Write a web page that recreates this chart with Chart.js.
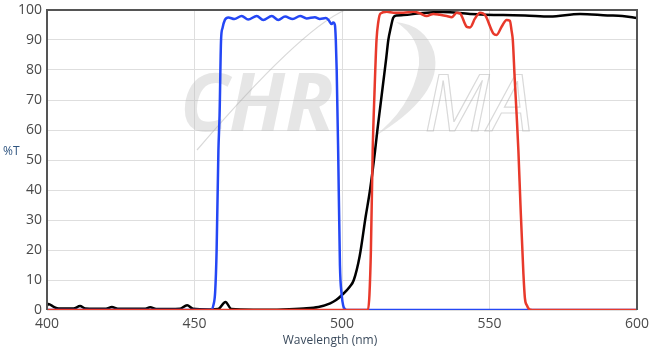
<!DOCTYPE html>
<html><head><meta charset="utf-8">
<script src="https://cdn.jsdelivr.net/npm/chart.js@4/dist/chart.umd.min.js"></script>
<style>html,body{margin:0;padding:0;background:#fff}#wrap{width:652px;height:354px}</style>
</head><body><div id="wrap"><canvas id="c" width="652" height="354"></canvas></div>
<script>
const xTicks = [400, 450, 500, 550, 600];
const yTicks = [0, 10, 20, 30, 40, 50, 60, 70, 80, 90, 100];

const redWl = [400, 508.8, 509.3, 509.8, 510.4, 511, 511.7, 512.3, 513, 515.2, 517.4, 520.8, 524.2, 526.4, 528.7, 531, 533.2, 535.5, 537.2, 538.9, 540, 542.3, 543.4, 545.1, 546.8, 548.5, 551.3, 552.4, 554.1, 555.8, 556.9, 557.5, 557.9, 558.5, 559.2, 559.8, 560.5, 561.5, 562, 562.7, 563.5, 564.5, 600];
const redT  = [0, 0, 5, 20, 53, 72, 90, 96, 98.8, 99.4, 99.1, 99.1, 99.4, 98.9, 98, 98.7, 98.4, 98, 97.6, 99.1, 98.9, 94.4, 94.2, 97.2, 99.1, 98.3, 92.2, 91.7, 94.4, 96.7, 96.4, 93, 90, 78, 65, 53, 35, 12, 4, 1.5, 0.2, 0, 0];

const blueWl = [400, 455.5, 456.5, 457, 457.5, 458.1, 458.5, 459, 459.5, 460.3, 461.5, 463.5, 466, 468.2, 471.1, 473.3, 476.2, 478.4, 480.7, 483.3, 485.8, 488, 490.8, 492.5, 494.5, 495.4, 496.5, 497, 497.6, 497.9, 498.2, 498.7, 499.3, 499.9, 500.4, 501, 502, 600];
const blueT  = [0, 0, 2, 6, 20, 53, 65, 90, 94, 96.7, 97.5, 97, 98, 96.8, 98, 96.7, 98, 96.7, 97.8, 97, 98, 97.2, 97.6, 97, 97.3, 96.7, 95.3, 95.8, 95, 90, 80, 53, 15, 5, 1.5, 0.3, 0, 0];

const blackWl = [400, 400.5, 402, 404, 409, 411.2, 413, 420, 422, 424, 433, 435, 437, 445, 447.5, 449.5, 455, 458, 460.5, 462.5, 470, 480, 487, 492, 496, 498, 500, 502.7, 504, 506, 508, 509.5, 511.2, 512, 513, 514, 515, 515.7, 516.5, 517.4, 518.5, 520.8, 526.4, 534.3, 543.4, 554.7, 562, 570.5, 580.7, 590, 595, 600];
const blackT  = [1.5, 2, 1.2, 0.5, 0.5, 1.3, 0.5, 0.4, 1, 0.4, 0.4, 0.9, 0.3, 0.4, 1.6, 0.4, 0.2, 0.3, 2.7, 0.3, 0.1, 0.2, 0.5, 1, 2.2, 3.3, 5, 7.8, 10, 18, 31, 40, 53, 60, 68, 76, 84, 90, 94, 97.5, 98.2, 98.3, 98.9, 99.3, 98.7, 98.3, 98.2, 97.8, 98.7, 98.2, 98, 97.3];

const toPts = (xs, ys) => xs.map((x, i) => ({x: x, y: ys[i]}));

const FONT = '"Open Sans", "DejaVu Sans", sans-serif';

const deco = {
  id: 'deco',
  beforeDatasetsDraw(chart) {
    const ctx = chart.ctx;
    ctx.save();
    // watermark
    ctx.fillStyle = 'rgba(190,190,190,0.38)';
    ctx.font = 'italic bold 80px "Open Sans", sans-serif';
    ctx.textBaseline = 'alphabetic';
    ctx.fillText('CHR', 180, 131);
    ctx.strokeStyle = 'rgba(170,170,170,0.45)';
    ctx.lineWidth = 1.2;
    ctx.font = 'italic 78px "Open Sans", sans-serif';
    ctx.strokeText('MA', 424, 131);
    // swoosh
    ctx.beginPath();
    ctx.moveTo(197, 150);
    ctx.quadraticCurveTo(300, 30, 345, 10);
    ctx.stroke();
    ctx.fillStyle = 'rgba(190,190,190,0.38)';
    ctx.beginPath();
    ctx.moveTo(372, 138);
    ctx.quadraticCurveTo(445, 95, 434, 52);
    ctx.quadraticCurveTo(425, 25, 396, 22);
    ctx.quadraticCurveTo(421, 38, 419, 65);
    ctx.quadraticCurveTo(412, 108, 372, 138);
    ctx.fill();
    ctx.restore();
  },
  afterDraw(chart) {
    const ctx = chart.ctx, a = chart.chartArea;
    ctx.save();
    ctx.strokeStyle = '#555';
    ctx.lineWidth = 2;
    ctx.beginPath();
    ctx.moveTo(a.left, a.bottom);
    ctx.lineTo(a.left, a.top);
    ctx.lineTo(a.right, a.top);
    ctx.lineTo(a.right, a.bottom);
    ctx.stroke();
    ctx.fillStyle = '#2f5580';
    ctx.font = '12px ' + FONT;
    ctx.textAlign = 'left';
    ctx.textBaseline = 'middle';
    ctx.fillText('%T', 3, 152);
    ctx.fillStyle = '#3a4a5c';
    ctx.textAlign = 'center';
    ctx.fillText('Wavelength (nm)', 330, 341);
    ctx.restore();
  }
};

new Chart(document.getElementById('c'), {
  type: 'line',
  data: {
    datasets: [
      {label: 'Em', data: toPts(redWl, redT), borderColor: '#e8392b', borderWidth: 2.5},
      {label: 'Ex', data: toPts(blueWl, blueT), borderColor: '#2447f5', borderWidth: 2.5},
      {label: 'BS', data: toPts(blackWl, blackT), borderColor: '#000000', borderWidth: 2.5}
    ]
  },
  options: {
    responsive: false,
    animation: false,
    elements: {point: {radius: 0}, line: {cubicInterpolationMode: 'monotone', fill: false}},
    layout: {padding: {top: 10, right: 15, left: 0, bottom: 0}},
    plugins: {legend: {display: false}, tooltip: {enabled: false}},
    scales: {
      x: {
        type: 'linear', min: 400, max: 600,
        afterBuildTicks: s => { s.ticks = xTicks.map(v => ({value: v})); },
        afterFit: s => { s.height = 44; s.paddingLeft = 0; s.paddingRight = 0; },
        grid: {color: '#dedede', lineWidth: 1, drawTicks: false},
        border: {display: false},
        ticks: {color: '#4a4a4a', font: {family: FONT, size: 14}, padding: 6, maxRotation: 0}
      },
      y: {
        min: 0, max: 100,
        afterBuildTicks: s => { s.ticks = yTicks.map(v => ({value: v})); },
        afterFit: s => { s.width = 47; s.paddingTop = 0; s.paddingBottom = 0; },
        grid: {color: '#dedede', lineWidth: 1, drawTicks: false},
        border: {display: false},
        ticks: {color: '#4a4a4a', font: {family: FONT, size: 14}, padding: 5}
      }
    }
  },
  plugins: [deco]
});
</script></body></html>
